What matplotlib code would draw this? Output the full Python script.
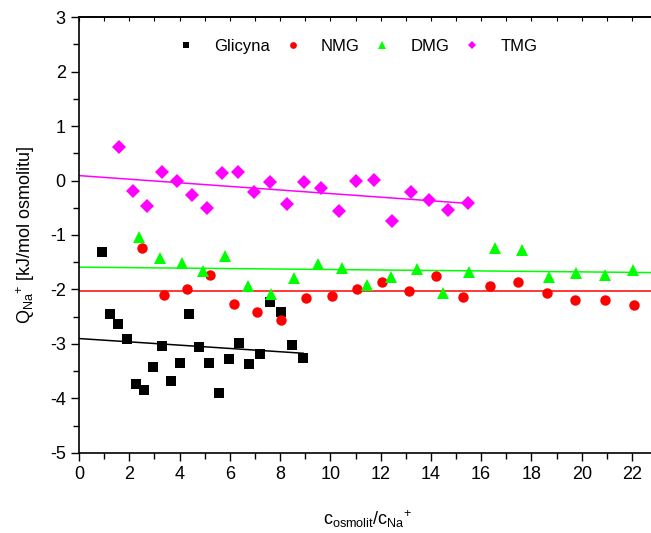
"""Heat of Na+ interaction vs osmolyte / Na+ ratio for four glycine derivatives."""

import matplotlib

matplotlib.use("Agg")
import matplotlib.pyplot as plt

plt.rcParams["font.family"] = ["Liberation Sans", "DejaVu Sans"]
plt.rcParams["mathtext.fontset"] = "custom"
plt.rcParams["mathtext.rm"] = "Liberation Sans"
plt.rcParams["mathtext.it"] = "Liberation Sans"
plt.rcParams["mathtext.default"] = "regular"
plt.rcParams["axes.unicode_minus"] = False

# Glicyna (black squares)
gly_x = [0.90, 1.23, 1.56, 1.90, 2.26, 2.59, 2.93, 3.29, 3.66, 4.02, 4.39,
         4.79, 5.17, 5.56, 5.95, 6.35, 6.77, 7.20, 7.61, 8.03, 8.47, 8.92]
gly_y = [-1.31, -2.45, -2.63, -2.91, -3.73, -3.85, -3.42, -3.03, -3.67, -3.34, -2.45,
         -3.05, -3.34, -3.89, -3.27, -2.98, -3.37, -3.18, -2.23, -2.41, -3.02, -3.26]
gly_fit_x = [0.0, 8.92]
gly_fit_y = [-2.90, -3.17]

# NMG (red circles)
nmg_x = [2.52, 3.39, 4.30, 5.22, 6.15, 7.09, 8.05, 9.04, 10.05, 11.05,
         12.06, 13.11, 14.19, 15.26, 16.36, 17.47, 18.60, 19.74, 20.91, 22.09]
nmg_y = [-1.24, -2.11, -2.00, -1.74, -2.26, -2.42, -2.56, -2.16, -2.12, -2.00,
         -1.87, -2.02, -1.75, -2.14, -1.94, -1.86, -2.06, -2.19, -2.19, -2.28]
nmg_fit_x = [0.0, 23.0]
nmg_fit_y = [-2.02, -2.02]

# DMG (green triangles)
dmg_x = [2.40, 3.22, 4.09, 4.94, 5.82, 6.73, 7.63, 8.56, 9.49, 10.47, 11.44,
         12.42, 13.44, 14.47, 15.50, 16.55, 17.61, 18.70, 19.78, 20.91, 22.04]
dmg_y = [-1.04, -1.42, -1.51, -1.66, -1.39, -1.94, -2.08, -1.79, -1.53, -1.60, -1.92,
         -1.77, -1.63, -2.06, -1.67, -1.23, -1.28, -1.77, -1.70, -1.73, -1.64]
dmg_fit_x = [0.0, 23.0]
dmg_fit_y = [-1.59, -1.69]

# TMG (magenta diamonds)
tmg_x = [1.59, 2.15, 2.72, 3.30, 3.89, 4.48, 5.08, 5.70, 6.32, 6.96, 7.61,
         8.27, 8.95, 9.64, 10.33, 11.03, 11.73, 12.45, 13.19, 13.93, 14.69, 15.46]
tmg_y = [0.61, -0.19, -0.46, 0.16, 0.00, -0.26, -0.51, 0.14, 0.16, -0.22, -0.03,
         -0.43, -0.03, -0.14, -0.56, -0.01, 0.01, -0.74, -0.21, -0.36, -0.55, -0.41]
tmg_fit_x = [0.0, 15.46]
tmg_fit_y = [0.09, -0.42]


def main() -> None:
    fig = plt.figure(figsize=(6.51, 5.33), dpi=100)
    ax = fig.add_axes([0.1214, 0.1501, 0.888, 0.818])

    series = [
        ("Glicyna", gly_x, gly_y, gly_fit_x, gly_fit_y, "black", "s", 7.0),
        ("NMG", nmg_x, nmg_y, nmg_fit_x, nmg_fit_y, "#FF0000", "o", 7.5),
        ("DMG", dmg_x, dmg_y, dmg_fit_x, dmg_fit_y, "#00FF00", "^", 8.5),
        ("TMG", tmg_x, tmg_y, tmg_fit_x, tmg_fit_y, "#FF00FF", "D", 7.0),
    ]
    for label, x, y, fx, fy, color, marker, ms in series:
        ax.plot(fx, fy, color=color, lw=1.1, zorder=2)
        ax.plot(x, y, ls="none", marker=marker, ms=ms, color=color,
                markeredgewidth=0, label=label, zorder=3)

    ax.set_xlim(0, 23)
    ax.set_ylim(-5, 3)
    ax.set_xticks(range(0, 23, 2))
    ax.set_xticks(range(0, 24), minor=True)
    ax.set_yticks(range(-5, 4))
    ax.set_yticks([v / 2 for v in range(-10, 7)], minor=True)

    ax.tick_params(which="both", direction="out", labelsize=13, width=1)
    ax.tick_params(which="major", length=6)
    ax.tick_params(which="minor", length=4)
    for side in ("left", "bottom", "top"):
        ax.spines[side].set_linewidth(1.2)
    ax.spines["right"].set_visible(False)

    top = ax.secondary_xaxis("top")
    top.set_xticks(range(0, 24))
    top.tick_params(direction="in", length=3, labeltop=False, width=0.8)
    top.spines["top"].set_linewidth(1.2)

    ax.set_xlabel(r"c$_{osmolit}$/c$_{Na}$$^{+}$", fontsize=13, labelpad=18)
    ax.set_ylabel(r"Q$_{Na}$$^{+}$ [kJ/mol osmolitu]", fontsize=13, labelpad=9)

    ax.legend(loc="upper center", bbox_to_anchor=(0.48, 0.985), ncol=4, frameon=False,
              fontsize=12, markerscale=0.65, handlelength=1.2, handletextpad=1.08,
              columnspacing=0.78)

    fig.savefig("out.png", dpi=100)


if __name__ == "__main__":
    main()
